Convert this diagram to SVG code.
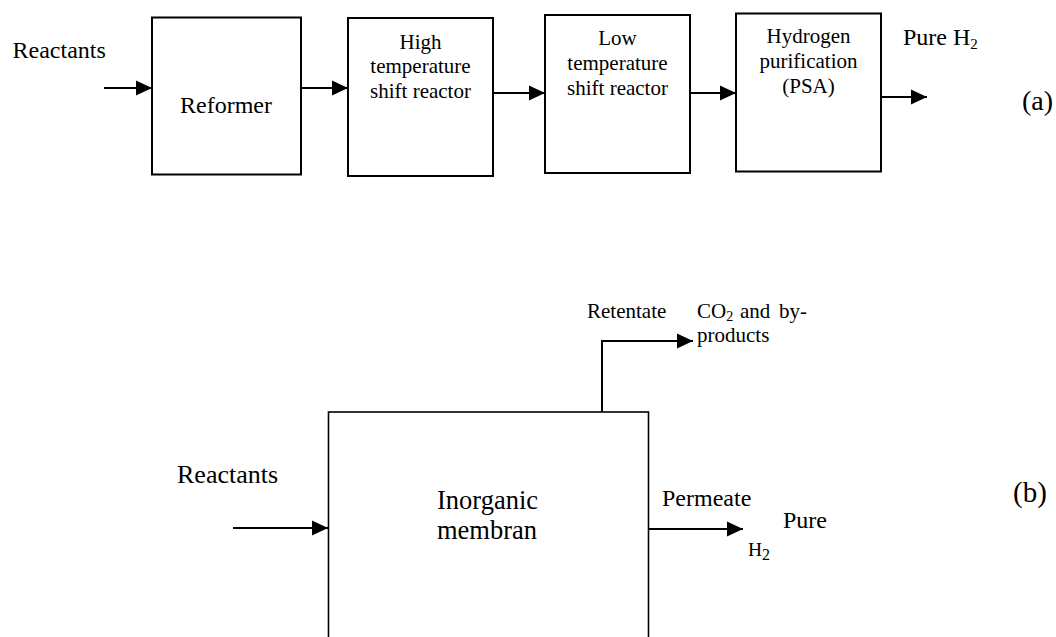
<svg xmlns="http://www.w3.org/2000/svg" width="1056" height="637" viewBox="0 0 1056 637">
<style>
.box{fill:#fff;stroke:#000;stroke-width:2}
.mbox{fill:#fff;stroke:#000;stroke-width:1.6}
.t{font-family:"Liberation Serif","Times New Roman",serif;fill:#000}
.c{text-anchor:middle}
.ln{fill:none;stroke:#000;stroke-width:2;marker-end:url(#ah)}
</style>
<defs>
<marker id="ah" markerUnits="userSpaceOnUse" markerWidth="16" markerHeight="16" refX="16" refY="8" orient="auto" viewBox="0 0 16 16">
<path d="M0,0.5 L16,8 L0,15.5 z" fill="#000"/>
</marker>
</defs>
<rect width="1056" height="637" fill="#fff"/>

<g id="connectors">
<line class="ln" x1="104" y1="88" x2="152" y2="88"/>
<line class="ln" x1="301" y1="88" x2="348" y2="88"/>
<line class="ln" x1="493" y1="93" x2="545" y2="93"/>
<line class="ln" x1="690" y1="93" x2="736" y2="93"/>
<line class="ln" x1="881" y1="97" x2="927" y2="97"/>
<line class="ln" x1="233" y1="528" x2="328" y2="528"/>
<path class="ln" d="M602,412 V341 H693"/>
<line class="ln" x1="649" y1="529" x2="743" y2="529"/>
</g>

<g id="reformer">
<rect class="box" x="152" y="17.5" width="149" height="157"/>
<text class="t c" x="226" y="113" font-size="24">Reformer</text>
</g>
<g id="ht-shift">
<rect class="box" x="348" y="18" width="145" height="158"/>
<text class="t c" font-size="21"><tspan x="420.5" y="48.5">High</tspan><tspan x="420.5" y="73">temperature</tspan><tspan x="420.5" y="97.5">shift reactor</tspan></text>
</g>
<g id="lt-shift">
<rect class="box" x="545" y="15" width="145" height="158"/>
<text class="t c" font-size="21"><tspan x="617.5" y="44.5">Low</tspan><tspan x="617.5" y="70">temperature</tspan><tspan x="617.5" y="95">shift reactor</tspan></text>
</g>
<g id="psa">
<rect class="box" x="736" y="13.5" width="145" height="158"/>
<text class="t c" font-size="21"><tspan x="808.5" y="43">Hydrogen</tspan><tspan x="808.5" y="68">purification</tspan><tspan x="808.5" y="93">(PSA)</tspan></text>
</g>
<g id="labels-a">
<text class="t" x="12.5" y="58" font-size="24">Reactants</text>
<text class="t" x="903" y="45" font-size="24">Pure H<tspan font-size="15" dy="4">2</tspan></text>
<text class="t" x="1022" y="110" font-size="28">(a)</text>
</g>

<g id="membrane">
<rect class="mbox" x="328.5" y="412" width="320" height="260"/>
<text class="t" font-size="26.5"><tspan x="437" y="508.5">Inorganic</tspan><tspan x="437" y="538.5">membran</tspan></text>
</g>
<g id="labels-b">
<text class="t" x="177" y="483" font-size="26">Reactants</text>
<text class="t" x="587" y="318" font-size="21">Retentate</text>
<text class="t" font-size="21"><tspan x="697" y="318">CO<tspan font-size="14" dy="3">2</tspan></tspan><tspan x="740" y="318">and</tspan><tspan x="779" y="318">by-</tspan><tspan x="697" y="342">products</tspan></text>
<text class="t" x="662" y="506" font-size="24">Permeate</text>
<text class="t" x="783" y="528" font-size="24">Pure</text>
<text class="t" x="748" y="556" font-size="19.5">H<tspan font-size="16" dy="4">2</tspan></text>
<text class="t" x="1013" y="502" font-size="29">(b)</text>
</g>
</svg>
